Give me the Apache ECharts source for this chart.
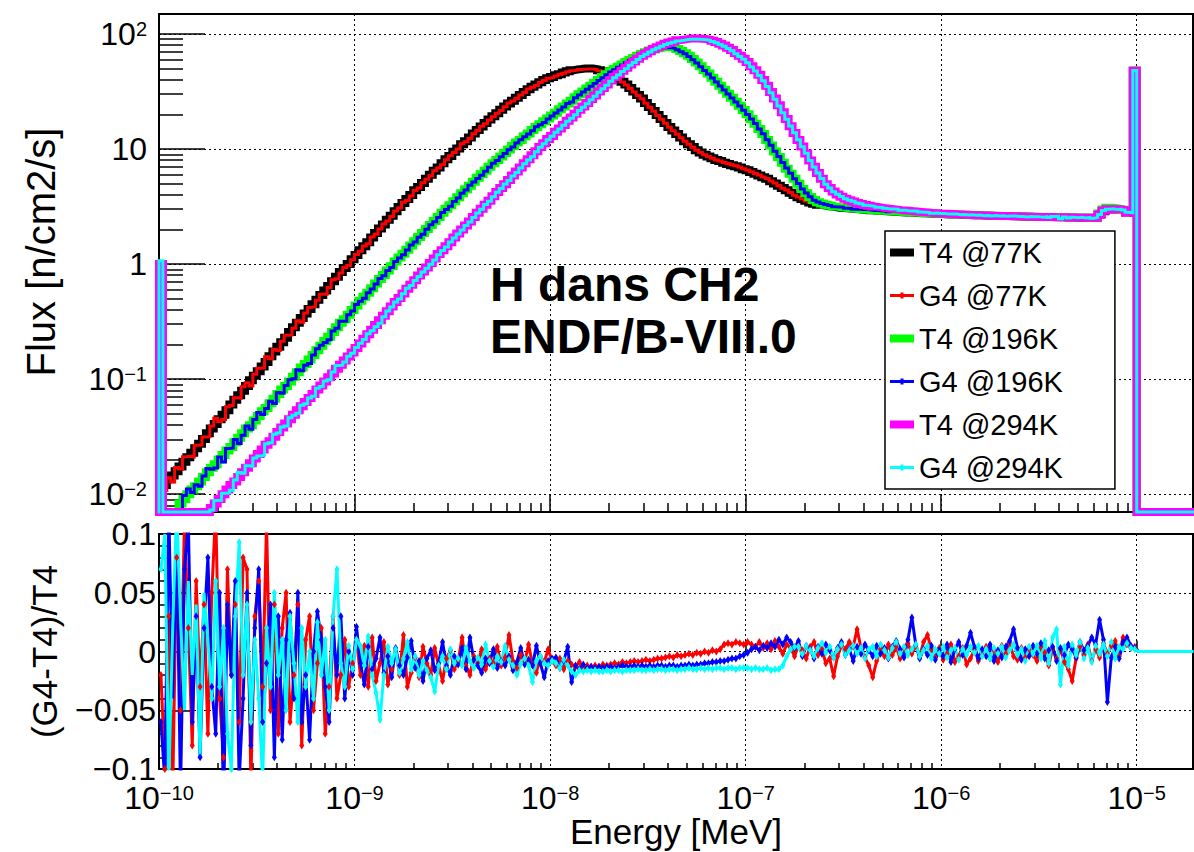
<!DOCTYPE html>
<html>
<head>
<meta charset="utf-8">
<title>H dans CH2 - ENDF/B-VIII.0</title>
<script src="https://cdn.jsdelivr.net/npm/echarts@6/dist/echarts.min.js"></script>
<style>
  html, body { margin: 0; padding: 0; background: #ffffff; }
  #chart { width: 1194px; height: 852px; }
</style>
</head>
<body>
<div id="chart"></div>
<script>
// Thermal neutron flux in polyethylene (H bound in CH2), TRIPOLI-4 (T4) vs Geant4 (G4)
// Histogram binning: 50 logarithmic bins per decade starting at 1e-10 MeV.
const LOG_E_START = -10;
const BINS_PER_DECADE = 50;
const N_BINS = 265;

// Axis ranges
const E_MIN = 1e-10, E_MAX = 1.94e-5;
const FLUX_MIN = 0.007, FLUX_MAX = 149;
const RATIO_MIN = -0.1, RATIO_MAX = 0.1;

// Major tick positions / labels
const energyDecades = [1e-10, 1e-9, 1e-8, 1e-7, 1e-6, 1e-5];
const fluxDecades = [1e-2, 1e-1, 1, 10, 100];
const ratioTicks = [-0.1, -0.05, 0, 0.05, 0.1];

const legendNames = ['T4 @77K', 'G4 @77K', 'T4 @196K', 'G4 @196K', 'T4 @294K', 'G4 @294K'];

// T4 flux per bin [n/cm2/s]
const t4_77K = [
  1.0, 0.0120, 0.0135, 0.0145, 0.0158, 0.0174, 0.0191, 0.0209, 0.0229, 0.0251,
  0.0275, 0.0302, 0.0339, 0.0372, 0.0407, 0.0447, 0.0490, 0.0537, 0.0603, 0.0661,
  0.0724, 0.0794, 0.0871, 0.0977, 0.107, 0.117, 0.129, 0.141, 0.158, 0.174,
  0.191, 0.209, 0.229, 0.257, 0.282, 0.309, 0.339, 0.372, 0.407, 0.447,
  0.490, 0.537, 0.589, 0.646, 0.708, 0.776, 0.851, 0.923, 1.00, 1.10,
  1.20, 1.32, 1.43, 1.55, 1.70, 1.86, 2.04, 2.21, 2.43, 2.63,
  2.88, 3.13, 3.39, 3.67, 3.98, 4.37, 4.68, 5.07, 5.50, 5.96,
  6.46, 6.92, 7.50, 8.13, 8.71, 9.44, 10.1, 11.0, 11.7, 12.6,
  13.6, 14.6, 15.7, 16.8, 18.0, 19.3, 20.4, 21.9, 23.4, 24.8,
  26.3, 27.9, 29.5, 31.3, 33.1, 34.7, 36.3, 38.0, 39.8, 41.2,
  42.2, 43.7, 44.7, 46.2, 47.3, 48.4, 49.0, 49.5, 50.1, 50.1,
  50.1, 49.5, 48.4, 47.3, 46.2, 44.7, 42.7, 40.7, 38.5, 36.3,
  33.9, 31.6, 29.5, 27.5, 25.1, 23.2, 21.4, 19.7, 18.2, 16.8,
  15.5, 14.5, 13.5, 12.6, 11.7, 11.0, 10.4, 9.77, 9.33, 8.91,
  8.61, 8.32, 8.04, 7.85, 7.59, 7.41, 7.24, 7.08, 6.92, 6.68,
  6.53, 6.31, 6.10, 5.89, 5.69, 5.50, 5.25, 5.01, 4.79, 4.57,
  4.37, 4.17, 3.98, 3.80, 3.67, 3.55, 3.43, 3.35, 3.27, 3.24,
  3.20, 3.16, 3.13, 3.09, 3.07, 3.05, 3.03, 3.01, 2.99, 2.96,
  2.94, 2.93, 2.92, 2.90, 2.89, 2.88, 2.86, 2.85, 2.84, 2.82,
  2.81, 2.80, 2.79, 2.78, 2.77, 2.76, 2.75, 2.74, 2.73, 2.72,
  2.71, 2.70, 2.70, 2.69, 2.68, 2.67, 2.67, 2.66, 2.65, 2.65,
  2.64, 2.63, 2.63, 2.62, 2.62, 2.61, 2.61, 2.60, 2.60, 2.59,
  2.59, 2.58, 2.58, 2.57, 2.57, 2.56, 2.56, 2.56, 2.55, 2.55,
  2.55, 2.54, 2.54, 2.54, 2.53, 2.53, 2.53, 2.52, 2.52, 2.52,
  2.70, 2.88, 2.98, 2.98, 2.98, 2.98, 2.95, 2.80, 2.78, 47.9,
  0, 0, 0, 0, 0, 0, 0, 0, 0, 0,
  0, 0, 0, 0, 0
];

const t4_196K = [
  1.0, 0, 0, 0, 0, 0.0083, 0.0091, 0.0100, 0.0110, 0.0117,
  0.0129, 0.0141, 0.0155, 0.0170, 0.0182, 0.0200, 0.0219, 0.0240, 0.0257, 0.0282,
  0.0309, 0.0339, 0.0372, 0.0398, 0.0437, 0.0479, 0.0525, 0.0562, 0.0617, 0.0676,
  0.0741, 0.0813, 0.0871, 0.0955, 0.105, 0.115, 0.126, 0.135, 0.148, 0.162,
  0.178, 0.195, 0.214, 0.234, 0.257, 0.282, 0.309, 0.331, 0.363, 0.398,
  0.437, 0.479, 0.519, 0.562, 0.617, 0.676, 0.741, 0.804, 0.881, 0.955,
  1.05, 1.14, 1.23, 1.33, 1.45, 1.58, 1.72, 1.86, 2.02, 2.19,
  2.37, 2.57, 2.79, 3.02, 3.24, 3.51, 3.80, 4.12, 4.47, 4.79,
  5.19, 5.62, 6.03, 6.46, 7.00, 7.50, 8.04, 8.61, 9.23, 9.89,
  10.6, 11.4, 12.0, 12.9, 13.6, 14.6, 15.5, 16.4, 17.4, 18.4,
  19.5, 20.7, 22.1, 23.4, 24.8, 26.3, 28.2, 29.9, 31.6, 33.5,
  35.5, 37.6, 39.8, 42.2, 44.7, 47.3, 49.5, 51.9, 54.3, 56.9,
  59.6, 61.7, 64.6, 66.8, 69.2, 71.6, 73.3, 75.0, 76.2, 76.7,
  76.7, 75.9, 73.9, 71.0, 68.0, 64.5, 60.5, 56.5, 52.5, 48.5,
  45.2, 41.7, 38.5, 35.5, 32.8, 30.2, 27.9, 25.7, 23.7, 21.8,
  20.0, 18.2, 16.6, 14.9, 13.5, 12.0, 10.7, 9.5, 8.5, 7.6,
  6.75, 6.1, 5.5, 4.98, 4.5, 4.12, 3.83, 3.6, 3.45, 3.36,
  3.28, 3.22, 3.17, 3.13, 3.10, 3.07, 3.04, 3.02, 3.00, 2.98,
  2.96, 2.94, 2.93, 2.91, 2.90, 2.89, 2.87, 2.86, 2.85, 2.83,
  2.82, 2.81, 2.80, 2.79, 2.78, 2.77, 2.76, 2.75, 2.74, 2.73,
  2.72, 2.71, 2.71, 2.70, 2.69, 2.68, 2.68, 2.67, 2.66, 2.66,
  2.65, 2.64, 2.64, 2.63, 2.63, 2.62, 2.62, 2.61, 2.61, 2.60,
  2.60, 2.59, 2.59, 2.58, 2.58, 2.57, 2.57, 2.57, 2.56, 2.56,
  2.56, 2.55, 2.55, 2.55, 2.54, 2.54, 2.54, 2.53, 2.53, 2.53,
  2.75, 2.98, 3.08, 3.08, 3.06, 3.02, 2.97, 2.82, 2.80, 47.9,
  0, 0, 0, 0, 0, 0, 0, 0, 0, 0,
  0, 0, 0, 0, 0
];

const t4_294K = [
  1.0, 0, 0, 0, 0, 0, 0, 0, 0, 0,
  0, 0, 0, 0.0076, 0.0083, 0.0091, 0.0100, 0.0110, 0.0120, 0.0129,
  0.0141, 0.0155, 0.0170, 0.0186, 0.0204, 0.0224, 0.0245, 0.0269, 0.0288, 0.0316,
  0.0347, 0.0380, 0.0412, 0.0447, 0.0490, 0.0537, 0.0582, 0.0631, 0.0684, 0.0741,
  0.0813, 0.0881, 0.0955, 0.104, 0.112, 0.123, 0.133, 0.145, 0.157, 0.170,
  0.186, 0.204, 0.224, 0.245, 0.269, 0.295, 0.324, 0.355, 0.389, 0.427,
  0.468, 0.507, 0.556, 0.610, 0.661, 0.724, 0.794, 0.861, 0.933, 1.02,
  1.12, 1.22, 1.32, 1.43, 1.55, 1.70, 1.84, 2.00, 2.16, 2.34,
  2.57, 2.79, 3.02, 3.27, 3.55, 3.89, 4.22, 4.57, 4.95, 5.37,
  5.89, 6.38, 6.92, 7.50, 8.13, 8.81, 9.55, 10.4, 11.2, 12.2,
  13.0, 14.1, 15.1, 16.2, 17.6, 18.8, 20.2, 21.9, 23.4, 25.1,
  27.2, 29.2, 31.6, 33.9, 36.3, 39.4, 42.2, 44.7, 47.9, 50.7,
  54.3, 57.5, 61.0, 64.6, 67.6, 70.8, 74.1, 76.7, 79.4, 82.2,
  84.1, 86.1, 88.1, 89.1, 90.2, 91.2, 91.2, 91.2, 90.8, 90.2,
  89.1, 87.1, 85.1, 82.2, 79.4, 75.9, 72.4, 68.4, 64.6, 61.0,
  56.9, 52.5, 48.4, 44.2, 39.8, 35.5, 31.3, 27.5, 24.0, 20.9,
  18.2, 15.8, 13.8, 12.0, 10.5, 9.12, 7.94, 7.00, 6.17, 5.50,
  4.95, 4.57, 4.27, 4.03, 3.85, 3.70, 3.59, 3.49, 3.40, 3.33,
  3.26, 3.21, 3.16, 3.13, 3.09, 3.05, 3.03, 3.00, 2.97, 2.94,
  2.92, 2.90, 2.88, 2.86, 2.84, 2.82, 2.80, 2.78, 2.77, 2.75,
  2.74, 2.73, 2.72, 2.71, 2.70, 2.69, 2.68, 2.67, 2.66, 2.65,
  2.64, 2.64, 2.63, 2.63, 2.62, 2.62, 2.61, 2.61, 2.60, 2.60,
  2.59, 2.59, 2.58, 2.58, 2.57, 2.57, 2.56, 2.56, 2.56, 2.55,
  2.55, 2.55, 2.54, 2.54, 2.54, 2.53, 2.53, 2.53, 2.52, 2.52,
  2.70, 2.90, 3.00, 3.00, 3.00, 2.99, 2.95, 2.80, 2.78, 47.9,
  0, 0, 0, 0, 0, 0, 0, 0, 0, 0,
  0, 0, 0, 0, 0
];

// Relative difference (G4-T4)/T4 per bin
const ratio77K = [
  -0.02, -0.10, 0.03, -0.12, 0.08, -0.05, 0.11, 0.02, -0.08, 0.06,
  -0.03, 0.04, -0.07, 0.05, 0.12, -0.04, -0.09, 0.07, -0.02, 0.04,
  -0.06, 0.08, 0.07, -0.11, 0.03, 0.06, -0.03, 0.11, -0.05, 0.04,
  -0.07, 0.02, 0.05, -0.06, -0.02, 0.04, -0.08, 0.01, 0.03, -0.05,
  -0.01, 0.02, -0.07, -0.03, 0.03, -0.04, -0.02, 0.01, -0.03, -0.01,
  0.01, -0.02, 0.005, -0.03, 0.012, -0.025, -0.01, 0.008, -0.028, -0.015,
  0.002, -0.02, 0.014, -0.03, -0.018, -0.005, -0.022, 0.004, -0.01, -0.02,
  0.003, -0.012, -0.025, -0.006, 0.001, -0.015, -0.008, 0.012, -0.012, -0.02,
  -0.004, -0.01, 0.002, -0.015, -0.006, -0.01, 0.004, -0.012, -0.005, 0.014,
  -0.008, -0.014, -0.003, -0.009, 0.006, -0.011, -0.018, -0.004, -0.009, 0.002,
  -0.008, -0.012, -0.006, -0.015, -0.008, -0.011, -0.013, -0.009, -0.014, -0.012,
  -0.013, -0.012, -0.013, -0.011, -0.012, -0.011, -0.010, -0.011, -0.009, -0.010,
  -0.009, -0.008, -0.009, -0.008, -0.007, -0.008, -0.007, -0.006, -0.006, -0.005,
  -0.004, -0.005, -0.003, -0.004, -0.003, -0.002, -0.003, -0.001, -0.002, 0.000,
  -0.001, 0.001, 0.000, 0.002, 0.006, 0.007, 0.006, 0.008, 0.007, 0.006,
  0.008, 0.006, 0.004, 0.008, 0.003, 0.007, 0.002, 0.009, 0.004, -0.002,
  0.006, 0.003, -0.004, 0.005, 0.001, -0.006, 0.004, 0.008, -0.003, 0.002,
  -0.010, -0.006, -0.021, -0.004, 0.005, 0.002, 0.008, 0.004, 0.019, 0.003,
  -0.005, -0.012, -0.022, -0.008, 0.002, -0.004, 0.006, -0.003, 0.004, -0.006,
  0.003, 0.007, -0.002, 0.005, -0.004, 0.008, 0.014, 0.002, -0.005, 0.003,
  -0.007, -0.002, 0.006, -0.009, -0.004, 0.003, -0.011, -0.006, 0.002, -0.008,
  -0.003, 0.004, -0.006, 0.001, -0.009, 0.005, -0.002, 0.007, -0.004, -0.007,
  0.003, -0.005, 0.002, -0.003, -0.008, 0.004, -0.001, -0.012, 0.003, -0.006,
  0.002, -0.009, -0.015, -0.025, -0.006, 0.004, -0.003, 0.006, -0.008, 0.002,
  -0.005, 0.007, -0.002, 0.005, 0.009, -0.004, 0.012, 0.006, 0.003, 0.004,
  0, 0, 0, 0, 0, 0, 0, 0, 0, 0,
  0, 0, 0, 0, 0
];

const ratio196K = [
  -0.06, -0.11, 0.12, -0.04, 0.10, -0.12, 0.07, 0.11, -0.06, 0.03,
  -0.09, 0.02, 0.08, -0.03, -0.07, 0.05, -0.13, 0.04, -0.02, 0.06,
  -0.11, -0.04, 0.05, -0.08, 0.02, 0.07, -0.06, -0.01, 0.04, -0.09,
  0.03, -0.075, 0.01, 0.033, -0.04, 0.05, -0.06, -0.02, -0.075, 0.00,
  0.034, 0.01, -0.03, -0.06, 0.02, -0.02, 0.03, -0.04, 0.00, -0.02,
  0.021, -0.01, -0.028, 0.004, -0.015, -0.006, 0.012, -0.018, -0.004, -0.022,
  0.003, -0.012, -0.02, -0.005, 0.009, -0.014, -0.008, -0.025, -0.006, 0.001,
  -0.016, -0.01, 0.008, -0.012, -0.02, -0.004, -0.011, 0.003, -0.015, 0.012,
  -0.007, -0.012, -0.018, -0.006, -0.01, 0.002, -0.014, -0.008, -0.012, -0.004,
  -0.016, -0.009, 0.003, -0.011, -0.007, -0.012, 0.005, -0.01, -0.022, -0.008,
  -0.006, -0.005, -0.014, -0.008, 0.004, -0.026, -0.012, -0.015, -0.011, -0.014,
  -0.013, -0.014, -0.013, -0.014, -0.013, -0.013, -0.014, -0.013, -0.012, -0.013,
  -0.013, -0.012, -0.013, -0.012, -0.013, -0.012, -0.013, -0.012, -0.012, -0.013,
  -0.012, -0.012, -0.013, -0.012, -0.012, -0.011, -0.012, -0.011, -0.011, -0.010,
  -0.010, -0.009, -0.009, -0.008, -0.008, -0.007, -0.006, -0.006, -0.004, -0.003,
  -0.001, 0.002, 0.004, 0.001, 0.005, 0.003, 0.007, 0.004, 0.010, 0.006,
  0.012, 0.008, 0.003, 0.009, -0.004, 0.005, 0.002, -0.006, 0.004, -0.002,
  0.006, 0.001, -0.005, 0.003, 0.008, -0.003, 0.002, -0.008, 0.004, -0.002,
  0.006, 0.001, -0.004, 0.005, -0.002, 0.003, -0.006, 0.004, 0.009, 0.002,
  -0.005, 0.010, 0.029, 0.006, -0.006, 0.002, -0.003, 0.005, -0.007, 0.001,
  -0.004, 0.006, -0.009, 0.002, 0.008, -0.003, 0.005, 0.016, 0.004, -0.006,
  0.002, -0.004, 0.006, -0.008, 0.001, -0.005, 0.004, 0.009, 0.019, 0.003,
  -0.007, 0.002, -0.004, 0.005, -0.002, 0.007, -0.006, 0.001, 0.004, -0.008,
  0.003, -0.003, 0.006, 0.002, -0.005, 0.008, 0.001, 0.005, 0.012, 0.006,
  0.027, 0.010, -0.043, -0.005, 0.004, -0.006, 0.008, 0.012, 0.005, 0.003,
  0, 0, 0, 0, 0, 0, 0, 0, 0, 0,
  0, 0, 0, 0, 0
];

const ratio294K = [
  0.07, 0.10, -0.11, 0.02, 0.12, 0.03, -0.05, 0.06, -0.02, 0.04,
  -0.09, 0.05, 0.01, -0.04, 0.06, -0.03, 0.02, -0.07, -0.10, 0.03,
  0.093, -0.02, 0.04, -0.06, 0.01, -0.04, -0.11, 0.02, -0.03, 0.05,
  -0.02, 0.01, -0.05, 0.03, -0.01, -0.06, 0.02, -0.03, 0.00, -0.04,
  0.025, -0.02, 0.01, -0.05, 0.03, 0.07, -0.01, -0.03, 0.005, -0.015,
  0.01, 0.005, -0.012, 0.013, -0.02, -0.035, -0.058, -0.02, 0.004, -0.01,
  0.002, -0.018, -0.006, 0.008, -0.015, -0.004, -0.02, -0.008, -0.016, -0.022,
  -0.034, -0.012, -0.004, -0.015, 0.002, -0.01, -0.006, -0.012, 0.003, -0.008,
  -0.014, -0.005, -0.011, 0.006, -0.008, -0.013, -0.004, -0.009, 0.005, -0.007,
  -0.012, -0.02, -0.01, -0.006, -0.012, -0.026, -0.008, -0.004, -0.01, -0.012,
  -0.008, -0.01, -0.014, -0.007, -0.012, -0.017, -0.02, -0.016, -0.017, -0.016,
  -0.017, -0.016, -0.017, -0.017, -0.016, -0.017, -0.016, -0.016, -0.017, -0.016,
  -0.016, -0.016, -0.015, -0.016, -0.016, -0.015, -0.016, -0.015, -0.015, -0.016,
  -0.015, -0.015, -0.016, -0.015, -0.015, -0.014, -0.015, -0.015, -0.014, -0.015,
  -0.014, -0.015, -0.014, -0.014, -0.015, -0.014, -0.014, -0.015, -0.014, -0.014,
  -0.014, -0.015, -0.014, -0.015, -0.015, -0.014, -0.016, -0.015, -0.015, -0.012,
  -0.004, 0.002, 0.004, 0.004, -0.002, 0.005, 0.001, -0.004, 0.003, 0.007,
  -0.001, 0.004, -0.005, 0.002, 0.006, -0.003, 0.001, 0.005, -0.002, 0.003,
  -0.006, 0.002, 0.004, -0.004, 0.006, 0.001, -0.005, 0.003, 0.008, -0.002,
  0.004, -0.003, 0.002, 0.006, -0.004, 0.001, 0.005, -0.006, 0.002, -0.002,
  0.004, -0.005, 0.001, 0.003, -0.007, 0.002, -0.003, 0.004, -0.001, 0.005,
  -0.004, 0.002, -0.006, 0.003, -0.002, 0.004, -0.005, 0.001, 0.006, -0.003,
  0.002, -0.008, 0.004, -0.002, 0.005, -0.006, 0.009, -0.010, 0.012, 0.019,
  -0.028, 0.004, -0.012, 0.006, -0.003, 0.008, -0.006, 0.003, -0.009, 0.005,
  -0.002, 0.006, -0.004, 0.008, -0.006, 0.004, 0.002, 0.007, 0.003, 0.002,
  0, 0, 0, 0, 0, 0, 0, 0, 0, 0,
  0, 0, 0, 0, 0
];

// G4 flux follows from the T4 flux and the relative difference
const g4FromRatio = (t4, r) => t4.map((v, k) => v * (1 + r[k]));
const g4_77K = g4FromRatio(t4_77K, ratio77K);
const g4_196K = g4FromRatio(t4_196K, ratio196K);
const g4_294K = g4FromRatio(t4_294K, ratio294K);

// ---------------------------------------------------------------------------
const FONT = '"Liberation Sans", Arial, Helvetica, sans-serif';
const INK = '#000000';

const binEdges = Array.from({ length: N_BINS + 1 },
  (_, k) => Math.pow(10, LOG_E_START + k / BINS_PER_DECADE));

// Histogram outline: each bin is a horizontal segment, empty bins sit on the frame bottom
function histogramPoints(values) {
  const floor = v => Math.max(v, FLUX_MIN);
  const pts = [[binEdges[0], FLUX_MIN]];
  values.forEach((v, k) => pts.push([binEdges[k], floor(v)]));
  pts.push([binEdges[values.length], floor(values[values.length - 1])]);
  return pts;
}

// Ratio markers sit at the (logarithmic) bin centres
function ratioPoints(r) {
  return r.map((v, k) => [Math.sqrt(binEdges[k] * binEdges[k + 1]), v]);
}

function logMinorTicks(lo, hi) {
  const out = [];
  for (let d = Math.floor(Math.log10(lo)); d <= Math.ceil(Math.log10(hi)); d++) {
    for (let m = 2; m <= 9; m++) {
      const v = +(m * Math.pow(10, d)).toPrecision(3);
      if (v > lo && v < hi) out.push(v);
    }
  }
  return out;
}
const energyMinor = logMinorTicks(E_MIN, E_MAX);
const fluxMinor = logMinorTicks(FLUX_MIN, FLUX_MAX);

const richLabel = {
  b: { fontSize: 32, lineHeight: 30, fontFamily: FONT, color: INK },
  s: { fontSize: 20, lineHeight: 18, fontFamily: FONT, color: INK, verticalAlign: 'top' }
};
function decadeLabel(v) {
  const e = Math.round(Math.log10(v));
  if (e === 0) return '{b|1}';
  if (e === 1) return '{b|10}';
  return '{b|10}{s|' + (e < 0 ? '\u2212' + (-e) : String(e)) + '}';
}
function ratioLabel(v) {
  if (Math.abs(v) < 1e-9) return '0';
  const s = String(+v.toFixed(2));
  return s.replace('-', '\u2212');
}

const tickStyle = { color: INK, width: 1.5 };
const gridLineStyle = { color: INK, width: 1, type: [2, 3] };

function logAxisPair(gridIndex, dim, min, max, majors, minors, majorLen, minorLen, extra) {
  const major = Object.assign({
    type: 'log', logBase: 10, gridIndex, min, max,
    position: dim === 'x' ? 'bottom' : 'left',
    axisLine: { show: false },
    axisTick: { show: true, inside: true, length: majorLen, customValues: majors, lineStyle: tickStyle },
    axisLabel: { show: false },
    splitLine: { show: true, lineStyle: gridLineStyle },
    minorTick: { show: false }, minorSplitLine: { show: false }
  }, extra || {});
  const minor = {
    type: 'log', logBase: 10, gridIndex, min, max,
    position: dim === 'x' ? 'bottom' : 'left',
    axisLine: { show: false },
    axisTick: { show: true, inside: true, length: minorLen, customValues: minors, lineStyle: tickStyle },
    axisLabel: { show: false },
    splitLine: { show: false },
    minorTick: { show: false }
  };
  return [major, minor];
}

const xAxes = [
  ...logAxisPair(0, 'x', E_MIN, E_MAX, energyDecades, energyMinor, 18, 9),
  ...logAxisPair(1, 'x', E_MIN, E_MAX, energyDecades, energyMinor, 11, 6, {
    axisLabel: {
      show: true, customValues: energyDecades, formatter: decadeLabel,
      margin: 14, rich: richLabel, color: INK
    },
    name: 'Energy [MeV]', nameLocation: 'middle', nameGap: 45, nameMoveOverlap: false,
    nameTextStyle: { fontSize: 35, color: INK, fontFamily: FONT }
  })
];

const yAxes = [
  ...logAxisPair(0, 'y', FLUX_MIN, FLUX_MAX, fluxDecades, fluxMinor, 46, 24, {
    axisLabel: {
      show: true, customValues: fluxDecades, formatter: decadeLabel,
      margin: 12, rich: richLabel, color: INK
    },
    name: 'Flux [n/cm2/s]', nameLocation: 'middle', nameGap: 98,
    nameTextStyle: { fontSize: 40, color: INK, fontFamily: FONT, padding: [0, 0, 0, 22] }
  }),
  {
    type: 'value', gridIndex: 1, min: RATIO_MIN, max: RATIO_MAX, interval: 0.05,
    position: 'left',
    axisLine: { show: false },
    axisTick: { show: true, inside: true, length: 32, lineStyle: tickStyle },
    minorTick: { show: true, splitNumber: 5, length: 8, lineStyle: tickStyle },
    axisLabel: {
      show: true, customValues: ratioTicks, formatter: ratioLabel, margin: 3,
      fontSize: 32, lineHeight: 22, fontFamily: FONT, color: INK
    },
    splitLine: { show: true, showMinLine: false, showMaxLine: false, lineStyle: gridLineStyle },
    name: '(G4-T4)/T4', nameLocation: 'middle', nameGap: 97,
    nameTextStyle: { fontSize: 35, color: INK, fontFamily: FONT }
  }
];

function histSeries(name, values, color, width) {
  return {
    name, type: 'line', xAxisIndex: 0, yAxisIndex: 0,
    data: histogramPoints(values), step: 'end',
    symbol: 'none', showSymbol: false, clip: false,
    color, lineStyle: { color, width, join: 'miter', cap: 'square' },
    emphasis: { disabled: true }
  };
}
function ratioSeries(name, r, t4, color) {
  return {
    name, type: 'line', xAxisIndex: 2, yAxisIndex: 2,
    data: ratioPoints(r),
    symbol: 'diamond',
    symbolSize: (val, p) => (t4[p.dataIndex] > 0 ? [5, 8] : 0),
    color, itemStyle: { color, borderWidth: 0 },
    lineStyle: { color, width: 3 }, clip: true,
    emphasis: { disabled: true }
  };
}

// Legend glyph for the G4 curves: thin line with a small error-bar tick
const G4_ICON = 'path://M0,2.5 L24,2.5 L24,5.5 L0,5.5 Z M10.5,1 L13.5,1 L13.5,7 L10.5,7 Z';

const chart = echarts.init(document.getElementById('chart'), null, { renderer: 'svg' });
chart.setOption({
  animation: false,
  backgroundColor: '#ffffff',
  textStyle: { fontFamily: FONT, color: INK },
  title: {
    text: 'H dans CH2\nENDF/B-VIII.0',
    left: 485, top: 253,
    textStyle: { fontSize: 48, fontWeight: 'bold', lineHeight: 52, color: INK, fontFamily: FONT }
  },
  legend: {
    data: [
      { name: legendNames[0], icon: 'rect' },
      { name: legendNames[1], icon: G4_ICON },
      { name: legendNames[2], icon: 'rect' },
      { name: legendNames[3], icon: G4_ICON },
      { name: legendNames[4], icon: 'rect' },
      { name: legendNames[5], icon: G4_ICON }
    ],
    orient: 'vertical', left: 885, top: 231,
    itemWidth: 24, itemHeight: 8, itemGap: 14,
    padding: [7, 52, 7, 5],
    backgroundColor: '#ffffff', borderColor: INK, borderWidth: 1.5, borderRadius: 0,
    itemStyle: { borderWidth: 0 },
    textStyle: { fontSize: 29, color: INK, fontFamily: FONT },
    selectedMode: false
  },
  grid: [
    { left: 159, top: 14, width: 1034, height: 498, show: true, borderColor: INK, borderWidth: 2,
      backgroundColor: 'transparent', containLabel: false, outerBoundsMode: 'none' },
    { left: 159, top: 534, width: 1034, height: 235, show: true, borderColor: INK, borderWidth: 2,
      backgroundColor: 'transparent', containLabel: false, outerBoundsMode: 'none' }
  ],
  xAxis: xAxes,
  yAxis: yAxes,
  series: [
    histSeries(legendNames[0], t4_77K, '#000000', 8),
    histSeries(legendNames[1], g4_77K, '#ff0000', 3),
    histSeries(legendNames[2], t4_196K, '#00ff00', 8),
    histSeries(legendNames[3], g4_196K, '#0000ff', 3),
    histSeries(legendNames[4], t4_294K, '#ff00ff', 8),
    histSeries(legendNames[5], g4_294K, '#00ffff', 3),
    ratioSeries('(G4-T4)/T4 77K', ratio77K, t4_77K, '#ff0000'),
    ratioSeries('(G4-T4)/T4 196K', ratio196K, t4_196K, '#0000ff'),
    ratioSeries('(G4-T4)/T4 294K', ratio294K, t4_294K, '#00ffff')
  ]
});
</script>
</body>
</html>
